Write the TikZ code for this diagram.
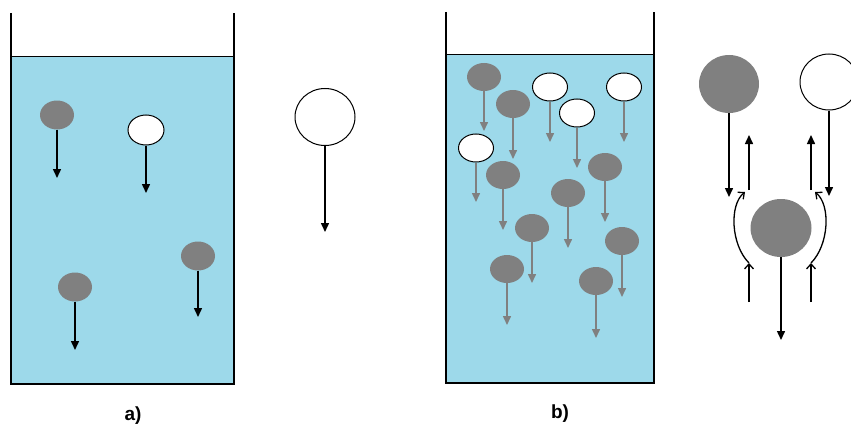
\documentclass[tikz,border=0pt]{standalone}
\usepackage{fontspec}
\setsansfont{Liberation Sans}
\usepackage{tikz}
\usetikzlibrary{shapes.geometric}
\usetikzlibrary{arrows.meta,positioning}
\definecolor{water}{RGB}{157,217,234}
\definecolor{partgray}{RGB}{128,128,128}
\tikzset{
  heavy/.style={ellipse,fill=partgray,inner sep=0pt,minimum width=34pt,minimum height=29pt},
  light/.style={ellipse,draw=black,fill=white,line width=1pt,inner sep=0pt,minimum width=35pt,minimum height=29pt},
  fall/.style={-{Triangle[length=9pt,width=8pt]},line width=1.5pt},
  fallg/.style={fall,draw=partgray,fill=partgray},
  flow/.style={-{Straight Barb[length=5pt,width=9pt]},line width=1.3pt},
  wall/.style={line width=1.6pt},
  lab/.style={font=\sffamily\bfseries\fontsize{19}{22}\selectfont}
}
\begin{document}
\begin{tikzpicture}[x=1pt,y=-1pt]
\useasboundingbox (0,0) rectangle (851,428);
% Beaker a
\fill [water] (11,56) rectangle (234,384);
\draw [wall] (11,13) -- (11,384) -- (234,384) -- (234,13);
\draw (11,56) -- (234,56);
\node [heavy] (a1) at (57,115) {};
\node [light,minimum width=36pt,minimum height=30pt] (a2) at (146,130) {};
\node [heavy] (a3) at (198,256) {};
\node [heavy] (a4) at (75,287) {};
\draw [fall] (a1.south) -- (57,178);
\draw [fall] (a2.south) -- (146,193);
\draw [fall] (a3.south) -- (198,317);
\draw [fall] (a4.south) -- (75,350);
% single particle
\node [light,minimum width=60pt,minimum height=57pt] (big) at (325,117) {};
\draw [fall] (big.south) -- (325,232);
\node [lab] (la) at (133,416) {a)};
% Beaker b
\fill [water] (446,54) rectangle (654,383);
\draw [wall] (446,12) -- (446,383) -- (654,383) -- (654,12);
\draw (446,54) -- (654,54);
\foreach \n/\x/\y/\e/\s in {1/484/77/131/heavy, 2/550/87/142/light, 3/624/87/142/light,
    4/513/104/159/heavy, 5/577/113/168/light, 6/476/148/202/light, 7/503/175/230/heavy,
    8/605/167/222/heavy, 9/568/193/248/heavy, 10/532/228/283/heavy, 11/622/241/297/heavy,
    12/507/269/325/heavy, 13/596/281/338/heavy}{
  \node [\s,minimum height=28pt] (b\n) at (\x,\y) {};
  \draw [fallg] (b\n.south) -- (\x,\e);
}
\node [lab] (lb) at (560,414) {b)};
% wake
\node [heavy,minimum width=60pt,minimum height=58pt] (g1) at (729,84) {};
\node [light,minimum width=58pt,minimum height=56pt] (w1) at (829,82) {};
\node [heavy,minimum width=61pt,minimum height=58pt] (g2) at (781,228) {};
\coordinate (ul0) at (749,190); \coordinate (ul1) at (749,135);
\coordinate (ur0) at (811,190); \coordinate (ur1) at (811,135);
\coordinate (cl0) at (749,302); \coordinate (cl1) at (749,263); \coordinate (cl2) at (745,192);
\coordinate (cr0) at (811,302); \coordinate (cr1) at (811,263); \coordinate (cr2) at (815,192);
\draw [fall] (g1.south) -- (729,197);
\draw [fall] (w1.south) -- (829,196);
\draw [fall] (ul0) -- (ul1);
\draw [fall] (ur0) -- (ur1);
\draw [fall] (g2.south) -- (781,340);
\draw [flow] (cl0) -- (cl1);
\draw [flow] (cl1) .. controls (731,245) and (729,205) .. (cl2);
\draw [flow] (cr0) -- (cr1);
\draw [flow] (cr1) .. controls (829,245) and (831,205) .. (cr2);
\end{tikzpicture}
\end{document}
